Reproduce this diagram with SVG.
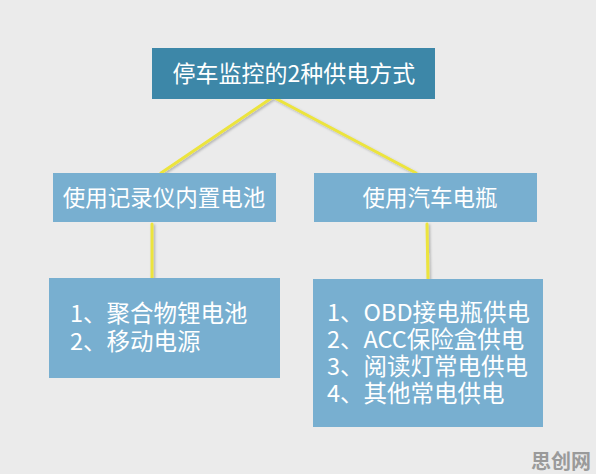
<svg xmlns="http://www.w3.org/2000/svg" width="596" height="474" viewBox="0 0 596 474">
<defs>
<filter id="sh" x="-10%" y="-10%" width="130%" height="140%">
<feDropShadow dx="1.5" dy="1.5" stdDeviation="1" flood-color="#000" flood-opacity="0.25"/>
</filter>
<style>
.dark{fill:#3d87a8;}
.light{fill:#78afd0;}
.t{fill:#ffffff;font-family:"Noto Sans CJK SC","Noto Sans",sans-serif;}
.c{stroke:#ece43c;stroke-width:3;fill:none;stroke-linecap:round;stroke-linejoin:round;}
.wm{fill:#9a9a9a;font-family:"Noto Sans CJK SC",sans-serif;font-weight:bold;}
</style>
</defs>
<rect width="596" height="474" fill="#ebebeb"/>
<g id="connectors" filter="url(#sh)">
<polyline class="c" points="161,173 273,97 416,173"/>
<line class="c" x1="152" y1="224" x2="152" y2="279"/>
<line class="c" x1="427" y1="224" x2="428" y2="279"/>
</g>
<g id="root">
<rect class="dark" x="152" y="48" width="283" height="51"/>
<text class="t" x="294" y="82" font-size="23" text-anchor="middle">停车监控的2种供电方式</text>
</g>
<g id="left">
<rect class="light" x="53" y="173" width="223" height="49"/>
<text class="t" x="164" y="206" font-size="22.5" text-anchor="middle">使用记录仪内置电池</text>
</g>
<g id="right">
<rect class="light" x="314" y="173" width="223" height="49"/>
<text class="t" x="430" y="206" font-size="22.5" text-anchor="middle">使用汽车电瓶</text>
</g>
<g id="left-list">
<rect class="light" x="49" y="278" width="231" height="100"/>
<text class="t" x="70" y="322" font-size="23.5">1、聚合物锂电池</text>
<text class="t" x="70" y="350" font-size="23.5">2、移动电源</text>
</g>
<g id="right-list">
<rect class="light" x="313" y="279" width="230" height="148"/>
<text class="t" x="327" y="321" font-size="23.5">1、OBD接电瓶供电</text>
<text class="t" x="327" y="348" font-size="23.5">2、ACC保险盒供电</text>
<text class="t" x="327" y="375" font-size="23.5">3、阅读灯常电供电</text>
<text class="t" x="327" y="402" font-size="23.5">4、其他常电供电</text>
</g>
<text class="wm" x="591" y="469" font-size="20" text-anchor="end">思创网</text>
</svg>
